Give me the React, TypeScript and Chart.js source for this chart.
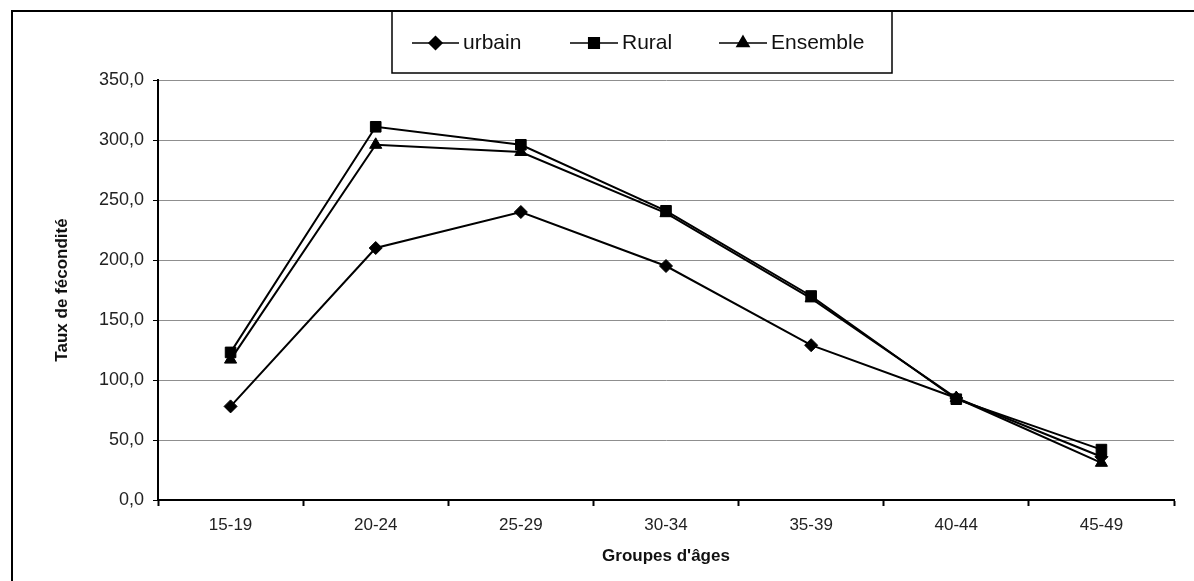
import React, { useEffect, useRef } from "react";
import { Chart, registerables } from "chart.js";
import { drawPoint } from "chart.js/helpers";

Chart.register(...registerables);

const categories = ["15-19", "20-24", "25-29", "30-34", "35-39", "40-44", "45-49"];
const urbain = [78, 210, 240, 195, 129, 85, 36];
const rural = [123, 311, 296, 241, 170, 84, 42];
const ensemble = [117, 296, 290, 239, 168, 85, 31];
const seriesNames = ["urbain", "Rural", "Ensemble"];
const xTitle = "Groupes d'âges";
const yTitle = "Taux de fécondité";
const yMin = 0;
const yMax = 350;
const yStep = 50;

const FONT = "'Liberation Sans', Arial, sans-serif";

const fmt = (v: number) => Number(v).toFixed(1).replace(".", ",");

const framePlugin = {
  id: "frame",
  beforeDraw(chart: any) {
    const ctx = chart.ctx;
    ctx.save();
    ctx.fillStyle = "#fff";
    ctx.fillRect(0, 0, chart.width, chart.height);
    ctx.strokeStyle = "#000";
    ctx.lineWidth = 2;
    ctx.beginPath();
    ctx.moveTo(12, chart.height + 2);
    ctx.lineTo(12, 11);
    ctx.lineTo(chart.width + 2, 11);
    ctx.stroke();
    ctx.restore();
  },
};

const legendLayout = [
  { x0: 412, x1: 459, tx: 463 },
  { x0: 570, x1: 618, tx: 622 },
  { x0: 719, x1: 767, tx: 771 },
];

const legendPlugin = {
  id: "customLegend",
  afterDraw(chart: any) {
    const ctx = chart.ctx;
    ctx.save();
    ctx.strokeStyle = "#000";
    ctx.lineWidth = 1.5;
    ctx.strokeRect(392, 11, 500, 62);
    const y = 43;
    chart.data.datasets.forEach((ds: any, i: number) => {
      const L = legendLayout[i];
      ctx.strokeStyle = "#000";
      ctx.lineWidth = 1.5;
      ctx.beginPath();
      ctx.moveTo(L.x0, y);
      ctx.lineTo(L.x1, y);
      ctx.stroke();
      ctx.fillStyle = "#000";
      drawPoint(
        ctx,
        {
          pointStyle: ds.pointStyle,
          radius: ds.pointRadius,
          borderWidth: 1,
          rotation: 0,
        } as any,
        (L.x0 + L.x1) / 2,
        y
      );
      ctx.fillStyle = "#111";
      ctx.font = `21px ${FONT}`;
      ctx.textBaseline = "middle";
      ctx.textAlign = "left";
      ctx.fillText(ds.label, L.tx, y);
    });
    ctx.restore();
  },
};

export default function App() {
  const ref = useRef<HTMLCanvasElement | null>(null);
  useEffect(() => {
    if (!ref.current) return;
    const mk = (label: string, data: number[], style: string, r: number) => ({
      label,
      data,
      borderColor: "#000",
      backgroundColor: "#000",
      borderWidth: 2,
      pointStyle: style,
      pointRadius: r,
      pointBackgroundColor: "#000",
      pointBorderColor: "#000",
      pointBorderWidth: 1,
      tension: 0,
      fill: false,
    });
    const chart = new Chart(ref.current, {
      type: "line",
      data: {
        labels: categories,
        datasets: [
          mk(seriesNames[0], urbain, "rectRot", 6.5),
          mk(seriesNames[1], rural, "rect", 7.5),
          mk(seriesNames[2], ensemble, "triangle", 7),
        ],
      },
      options: {
        responsive: false,
        animation: false,
        layout: { padding: { top: 80, right: 20, left: 0, bottom: 0 } },
        plugins: {
          legend: { display: false },
          title: { display: false },
          tooltip: { enabled: false },
        },
        scales: {
          x: {
            type: "category",
            offset: true,
            grid: {
              display: true,
              drawOnChartArea: false,
              drawTicks: true,
              tickLength: 6,
              tickColor: "#000",
              tickWidth: 2,
              offset: true,
              color: "#000",
            },
            border: { display: true, color: "#000", width: 2 },
            ticks: { color: "#222", font: { family: FONT, size: 17 }, padding: 9 },
            title: {
              display: true,
              text: xTitle,
              color: "#111",
              font: { family: FONT, size: 17, weight: "bold" },
              padding: { top: 0, bottom: 14 },
            },
            afterFit: (s: any) => {
              s.height = 81;
            },
          },
          y: {
            min: yMin,
            max: yMax,
            ticks: {
              stepSize: yStep,
              callback: (v: any) => fmt(v),
              color: "#222",
              font: { family: FONT, size: 18 },
              padding: 9,
            },
            grid: {
              color: "#8f8f8f",
              lineWidth: 1,
              tickLength: 5,
              tickColor: "#000",
              drawTicks: true,
            },
            border: { display: true, color: "#000", width: 2 },
            title: {
              display: true,
              text: yTitle,
              color: "#111",
              font: { family: FONT, size: 17, weight: "bold" },
              padding: { top: 52, bottom: 0 },
            },
            afterFit: (s: any) => {
              s.width = 158;
            },
          },
        },
      } as any,
      plugins: [framePlugin, legendPlugin],
    });
    return () => chart.destroy();
  }, []);
  return (
    <div style={{ position: "absolute", left: 0, top: 0, width: 1194, height: 581, background: "#fff" }}>
      <canvas ref={ref} width={1194} height={581} style={{ width: 1194, height: 581, display: "block" }} />
    </div>
  );
}
